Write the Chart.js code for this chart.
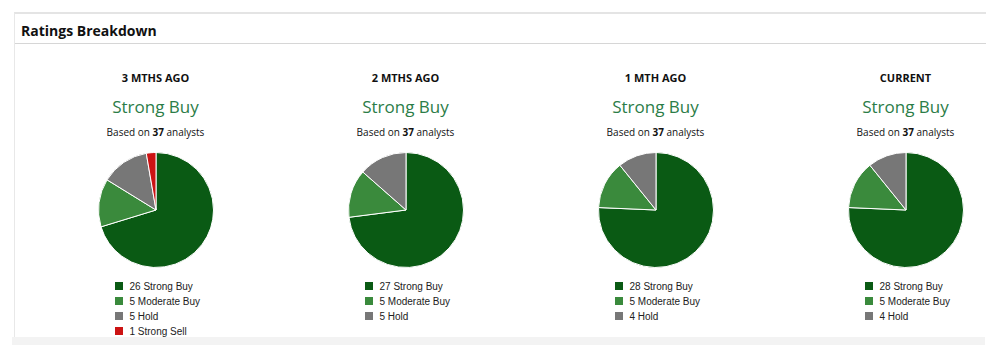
<!DOCTYPE html>
<html>
<head>
<meta charset="utf-8">
<script src="https://cdn.jsdelivr.net/npm/chart.js@4/dist/chart.umd.min.js"></script>
<style>
  html, body { margin: 0; padding: 0; background: #fff; width: 1008px; height: 345px; overflow: hidden; }
  .card { position: absolute; left: 14px; top: 12px; width: 971px; height: 325px;
          border-top: 2px solid #e4e4e4; border-left: 1px solid #e8e8e8; }
  .card-head { height: 29px; border-bottom: 1px solid #d6d6d6; }
  .card-head span { position: absolute; left: 6px; top: 7px; font: bold 14px "Open Sans", sans-serif; color: #111; }
  .band { position: absolute; left: 12px; top: 337px; width: 973px; height: 8px; background: #f3f3f3; }
  .col { position: absolute; top: 0; width: 250px; height: 345px; }
  .col h4 { position: absolute; top: 70px; left: 0; width: 100%; margin: 0; text-align: center;
            font: bold 11px "Open Sans", sans-serif; color: #111; }
  .col .rating { position: absolute; top: 95px; left: 0; width: 100%; text-align: center;
                 font: 17px "Open Sans", sans-serif; color: #2b7d48; }
  .col .based { position: absolute; top: 125px; left: 0; width: 100%; text-align: center;
                font: 10px "Open Sans", sans-serif; color: #111; }
  .col .based b { font-weight: bold; }
  .pie { position: absolute; top: 152px; left: 67px; width: 116px; height: 116px; }
  .legend { position: absolute; top: 279px; left: 84px; margin: 0; padding: 0; list-style: none;
            font: 10px "Liberation Sans", Arial, sans-serif; color: #222; }
  .legend li { height: 15px; line-height: 15px; white-space: nowrap; }
  .legend i { display: inline-block; width: 8px; height: 8px; margin-right: 7px; }
</style>
</head>
<body>
<div class="card"><div class="card-head"><span>Ratings Breakdown</span></div></div>
<div id="cols"></div>
<div class="band"></div>
<script>
const periods = ['3 MTHS AGO', '2 MTHS AGO', '1 MTH AGO', 'CURRENT'];
const consensus = ['Strong Buy', 'Strong Buy', 'Strong Buy', 'Strong Buy'];
const analysts = [37, 37, 37, 37];
const categories = ['Strong Buy', 'Moderate Buy', 'Hold', 'Strong Sell'];
const colors = ['#0a5a14', '#3a8a3c', '#777777', '#cc1313'];
const counts3m = [26, 5, 5, 1];
const counts2m = [27, 5, 5];
const counts1m = [28, 5, 4];
const countsNow = [28, 5, 4];
const allCounts = [counts3m, counts2m, counts1m, countsNow];

// legend as an html list under each pie
const htmlLegend = {
  id: 'htmlLegend',
  afterUpdate(chart, args, opts) {
    const ul = document.getElementById(opts.containerID);
    ul.innerHTML = '';
    const values = chart.data.datasets[0].data;
    chart.options.plugins.legend.labels.generateLabels(chart).forEach((item, i) => {
      const li = document.createElement('li');
      const box = document.createElement('i');
      box.style.background = item.fillStyle;
      li.appendChild(box);
      li.appendChild(document.createTextNode(values[i] + ' ' + item.text));
      ul.appendChild(li);
    });
  }
};

const wrap = document.getElementById('cols');
periods.forEach((p, k) => {
  const col = document.createElement('div');
  col.className = 'col';
  col.style.left = (30.5 + k * 250) + 'px';
  col.innerHTML = '<h4>' + p + '</h4>' +
    '<div class="rating">' + consensus[k] + '</div>' +
    '<div class="based">Based on <b>' + analysts[k] + '</b> analysts</div>' +
    '<div class="pie"><canvas id="pie' + k + '"></canvas></div>' +
    '<ul class="legend" id="leg' + k + '"></ul>';
  wrap.appendChild(col);

  const data = allCounts[k];
  new Chart(document.getElementById('pie' + k), {
    type: 'pie',
    data: {
      labels: categories.slice(0, data.length),
      datasets: [{
        data: data,
        backgroundColor: colors.slice(0, data.length),
        borderColor: '#ffffff',
        borderWidth: 1
      }]
    },
    options: {
      responsive: true,
      maintainAspectRatio: false,
      animation: false,
      layout: { padding: 0 },
      plugins: {
        legend: { display: false },
        tooltip: { enabled: false },
        htmlLegend: { containerID: 'leg' + k }
      }
    },
    plugins: [htmlLegend]
  });
});
</script>
</body>
</html>
